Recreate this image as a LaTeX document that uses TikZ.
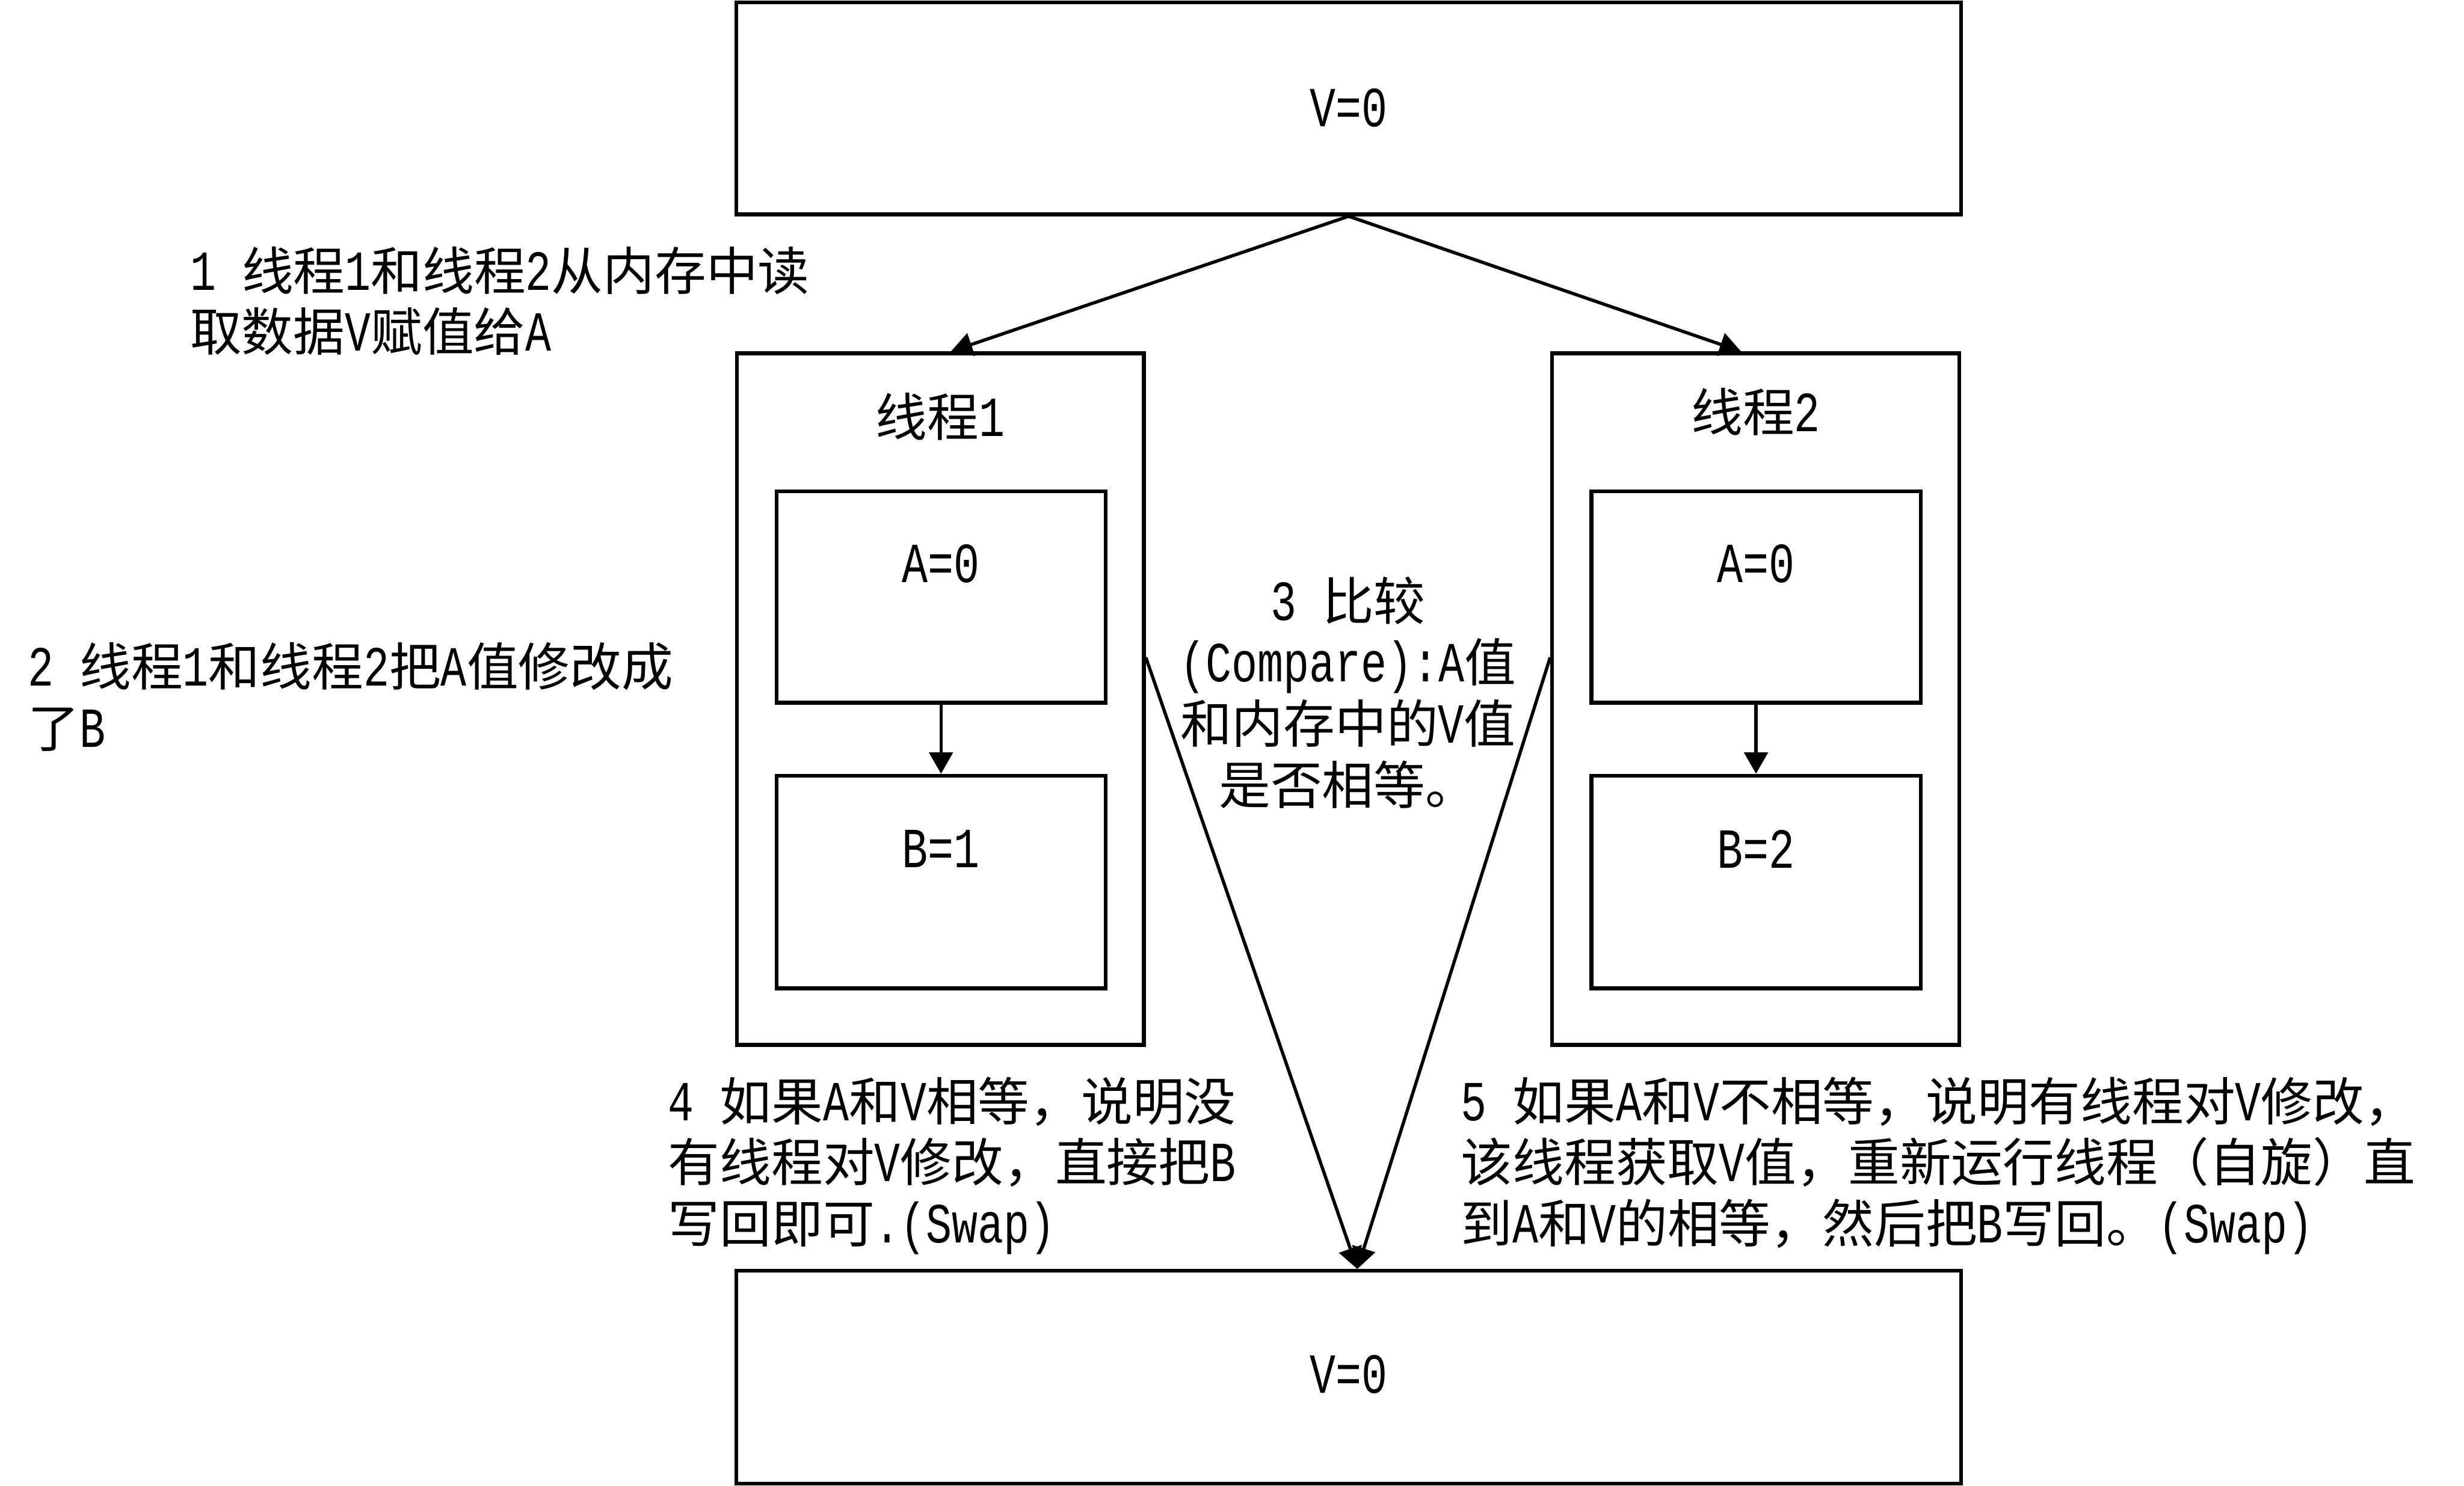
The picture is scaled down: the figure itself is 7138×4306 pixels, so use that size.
\documentclass[tikz,border=0pt]{standalone}
\usepackage{fontspec}
\setmainfont{Liberation Mono}[Scale=1.1,FakeStretch=0.76]
\newfontfamily\cjk{Noto Sans CJK SC}
\usetikzlibrary{arrows.meta,calc}
\newcount\cjkcnt
\newXeTeXintercharclass\cjkclass
\def\setcjkrange#1#2{\cjkcnt=#1\relax
  \loop\XeTeXcharclass\cjkcnt=\cjkclass
  \ifnum\cjkcnt<#2\advance\cjkcnt by 1\repeat}
\setcjkrange{"3000}{"303F}
\setcjkrange{"4E00}{"9FFF}
\setcjkrange{"FF00}{"FFEF}
\XeTeXinterchartoks 0 \cjkclass = {\cjk}
\XeTeXinterchartoks 4095 \cjkclass = {\cjk}
\XeTeXinterchartoks \cjkclass 0 = {\rmfamily}
\XeTeXinterchartoks \cjkclass 4095 = {\rmfamily}
\XeTeXinterchartokenstate=1
\tikzset{
  box/.style={draw, line width=0.11cm, inner sep=0pt},
  lbl/.style={inner sep=0pt, font=\fontsize{42.5}{50.4}\selectfont},
  con/.style={line width=0.095cm, -{Triangle[length=0.62cm,width=0.68cm]}},
}
\begin{document}
\begin{tikzpicture}[x=0.01cm,y=-0.01cm]
\useasboundingbox (0,0) rectangle (7138,4306);
% boxes
\node[box, minimum width=35.46cm, minimum height=6.14cm] (top) at (3907,314) {};
\node[box, minimum width=11.79cm, minimum height=20.03cm] (t1) at (2724,2026) {};
\node[box, minimum width=11.79cm, minimum height=20.03cm] (t2) at (5086,2026) {};
\node[box, minimum width=9.53cm, minimum height=6.12cm] (a1) at (2726,1730) {};
\node[box, minimum width=9.53cm, minimum height=6.16cm] (b1) at (2726,2556) {};
\node[box, minimum width=9.53cm, minimum height=6.12cm] (a2) at (5087,1730) {};
\node[box, minimum width=9.53cm, minimum height=6.16cm] (b2) at (5087,2556) {};
\node[box, minimum width=35.46cm, minimum height=6.16cm] (bot) at (3907,3991) {};
% labels in boxes
\node[lbl] (vtop) at (3907,312) {V=0};
\node[lbl] (l1) at (2724,1207) {线程1};
\node[lbl] (l2) at (5086,1193) {线程2};
\node[lbl] (ta1) at (2726,1633) {A=0};
\node[lbl] (tb1) at (2726,2460) {B=1};
\node[lbl] (ta2) at (5087,1633) {A=0};
\node[lbl] (tb2) at (5087,2460) {B=2};
\node[lbl] (vbot) at (3907,3983) {V=0};
% free texts
\node[lbl, anchor=west, align=left] (s1) at (550,872) {1 线程1和线程2从内存中读\\取数据V赋值给A};
\node[lbl, anchor=west, align=left] (s2) at (80,2019) {2 线程1和线程2把A值修改成\\了B};
\node[lbl, align=center] (s3) at (3905,2007) {3 比较\\(Compare):A值\\和内存中的V值\\是否相等。};
\node[lbl, anchor=west, align=left] (s4) at (1935,3378) {4 如果A和V相等，说明没\\有线程对V修改，直接把B\\写回即可.(Swap)};
\node[lbl, anchor=west, align=left] (s5) at (4232,3378) {5 如果A和V不相等，说明有线程对V修改，\\该线程获取V值，重新运行线程（自旋）直\\到A和V的相等，然后把B写回。(Swap)};
% connectors
\coordinate (t1in) at ($(t1.north west)+(626,0)$);
\coordinate (t2in) at ($(t2.north west)+(553,0)$);
\coordinate (t1out) at ($(t1.east)+(0,-121)$);
\coordinate (t2out) at ($(t2.west)+(0,-121)$);
\coordinate (bin) at ($(bot.north)+(25,0)$);
\draw[con] (top.south) -- (t1in);
\draw[con] (top.south) -- (t2in);
\draw[con] (a1.south) -- (b1.north);
\draw[con] (a2.south) -- (b2.north);
\draw[con] (t1out) -- (bin);
\draw[con] (t2out) -- (bin);
\end{tikzpicture}
\end{document}
